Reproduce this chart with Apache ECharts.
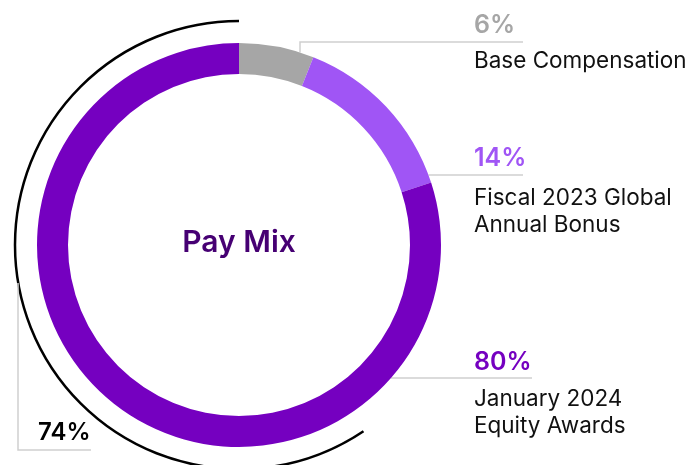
<!DOCTYPE html>
<html>
<head>
<meta charset="utf-8">
<style>
  html, body { margin: 0; padding: 0; background: #ffffff; }
  #chart { width: 688px; height: 465px; }
</style>
<script src="https://cdn.jsdelivr.net/npm/echarts@6/dist/echarts.min.js"></script>
</head>
<body>
<div id="chart"></div>
<script>
// Pay mix components (percent of total target pay)
const categories = ['Base Compensation', 'Fiscal 2023 Global\nAnnual Bonus', 'January 2024\nEquity Awards'];
const shares = [6, 14, 80];
// Bracketed share called out on the left side
const bracketShare = 74;
const centerTitle = 'Pay Mix';

const FONT = 'Inter, "Noto Sans", sans-serif';
const palette = ['#a6a6a6', '#a055f5', '#7500c0'];

// ring geometry
const CX = 239, CY = 245, R_IN = 171, R_OUT = 202;
// leader line rows for each slice label, and how each label block sits on its row
const leaderY = [42, 175, 378];
const leaderEnd = [523, 523, 532];
const blockTop = [-40, -44, -40];
const pctLineHeight = [46, 54, 48];
const labelX = 474;

const chart = echarts.init(document.getElementById('chart'), null, { renderer: 'canvas' });

const rich = { n: { fontFamily: FONT, fontSize: 22.5, lineHeight: 27, color: '#111111' } };
palette.forEach((c, i) => {
  rich['p' + i] = { fontFamily: FONT, fontSize: 25, fontWeight: 600, lineHeight: pctLineHeight[i], color: c };
});

function edgeX(y) {
  return CX + Math.sqrt(R_OUT * R_OUT - (y - CY) * (y - CY));
}

const option = {
  animation: false,
  series: [{
    type: 'pie',
    silent: true,
    center: [CX, CY],
    radius: [R_IN, R_OUT],
    startAngle: 90,
    clockwise: true,
    avoidLabelOverlap: false,
    emphasis: { disabled: true },
    itemStyle: { borderWidth: 0 },
    data: categories.map((name, i) => ({ name, value: shares[i], itemStyle: { color: palette[i] } })),
    label: {
      show: true,
      position: 'outside',
      align: 'left',
      verticalAlign: 'top',
      formatter: p => `{p${p.dataIndex}|${p.value}%}\n` + p.name.split('\n').map(s => `{n|${s}}`).join('\n'),
      rich
    },
    labelLine: {
      show: true,
      lineStyle: { color: '#cfcfcf', width: 1.5 }
    },
    labelLayout: params => {
      const i = params.dataIndex;
      const y = leaderY[i];
      let pts;
      if (i === 0) {
        const vx = 300;
        const vy = CY - Math.sqrt(R_OUT * R_OUT - (vx - CX) * (vx - CX));
        pts = [[vx, vy], [vx, y], [leaderEnd[i], y]];
      } else {
        const ex = edgeX(y);
        pts = [[ex, y], [ex + 1, y], [leaderEnd[i], y]];
      }
      return {
        x: labelX,
        y: y + blockTop[i],
        align: 'left',
        verticalAlign: 'top',
        labelLinePoints: pts
      };
    }
  }],
  graphic: [
    {
      type: 'text',
      x: CX,
      y: 243,
      style: {
        text: centerTitle,
        align: 'center',
        verticalAlign: 'middle',
        fontFamily: FONT,
        fontSize: 30,
        fontWeight: 600,
        fill: '#460073'
      }
    },
    {
      // bracket arc wrapping the left side of the ring
      type: 'arc',
      shape: {
        cx: CX, cy: CY, r: 224,
        startAngle: -Math.PI / 2,
        endAngle: Math.atan2(187, 125),
        clockwise: false
      },
      style: { stroke: '#000000', lineWidth: 2.5, fill: null }
    },
    {
      type: 'polyline',
      shape: { points: [[18, 283], [18, 450], [91, 450]] },
      style: { stroke: '#cfcfcf', lineWidth: 1.5, fill: null }
    },
    {
      type: 'text',
      x: 38,
      y: 433,
      style: {
        text: bracketShare + '%',
        align: 'left',
        verticalAlign: 'middle',
        fontFamily: FONT,
        fontSize: 24,
        fontWeight: 600,
        fill: '#000000'
      }
    }
  ]
};

chart.setOption(option);
</script>
</body>
</html>
